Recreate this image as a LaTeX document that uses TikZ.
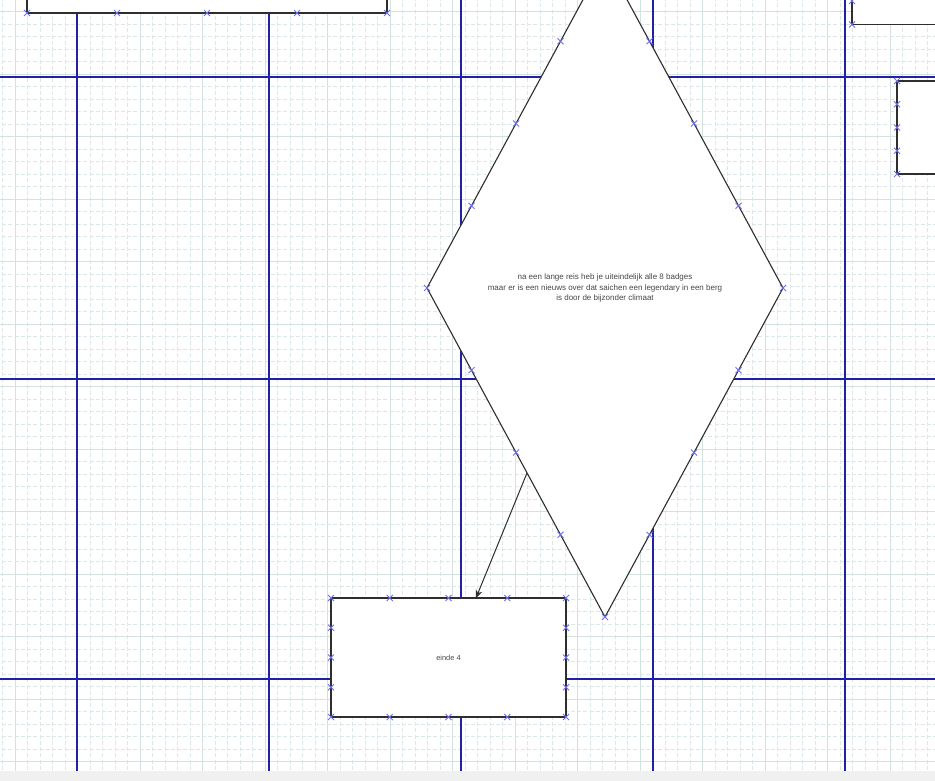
\documentclass[tikz,border=0pt]{standalone}
\usepackage{fontspec}
\setmainfont{Liberation Sans}
\usetikzlibrary{shapes.geometric,arrows.meta,calc}
\definecolor{gmin}{HTML}{DCE7E7}
\definecolor{gmaj}{HTML}{D3E1E1}
\definecolor{pg}{HTML}{2020A8}
\definecolor{mkc}{HTML}{6E6EF0}
\definecolor{edgec}{HTML}{2E2E2E}
\definecolor{txt}{HTML}{474747}
\definecolor{strip}{HTML}{F0F0F0}
\begin{document}
\begin{tikzpicture}[x=1pt,y=-1pt,
  minorline/.style={gmin,line width=0.9pt},
  majorline/.style={gmaj,line width=1pt},
  shapebox/.style={draw=edgec,fill=white,line width=1.2pt,rectangle,inner sep=0pt,outer sep=0pt},
  shapedia/.style={draw=edgec,fill=white,line width=1.1pt,diamond,inner sep=0pt,outer sep=0pt,
    text=txt,align=center,font=\fontsize{8}{10.4}\selectfont},
  arr/.style={draw=edgec,line width=1pt,-{Stealth[length=8pt,width=7pt]}},
  mk/.pic={\draw[mkc,line width=0.85pt] (-3,-3)--(3,3) (-3,3)--(3,-3);}
]
\useasboundingbox (0,0) rectangle (935,781);
\clip (0,0) rectangle (935,781);
\fill[white] (0,0) rectangle (935,771);
\fill[strip] (0,771) rectangle (935,781);

% grid
\begin{scope}
\clip (0,0) rectangle (935,771);
\foreach \i in {0,...,74}
  \draw[minorline,dash pattern=on 4pt off 2.25pt,dash phase=2.8pt] ({2.5+12.5*\i},0) -- ({2.5+12.5*\i},771);
\foreach \i in {0,...,62}
  \draw[minorline,dash pattern=on 4pt off 2.25pt,dash phase=4.25pt] (0,{-0.8+12.5*\i}) -- (935,{-0.8+12.5*\i});
\foreach \i in {0,...,14}
  \draw[majorline] ({15+62.5*\i},0) -- ({15+62.5*\i},771);
\foreach \i in {0,...,12}
  \draw[majorline] (0,{11.7+62.5*\i}) -- (935,{11.7+62.5*\i});
\foreach \px in {76,268,460,652,844}
  \fill[pg] (\px,0) rectangle ({\px+2},771);
\foreach \py in {76,378,678}
  \fill[pg] (0,\py) rectangle (935,{\py+2});
\end{scope}

% shapes
\node[shapebox,minimum width=360pt,minimum height=120pt,anchor=south west] (r1) at (27,13) {};
\node[shapebox,minimum width=400pt,minimum height=94pt,anchor=south west] (r2) at (852,24.5) {};
\node[shapebox,minimum width=200pt,minimum height=93pt,anchor=north west] (r3) at (897,81) {};
\node[shapedia,minimum width=356pt,minimum height=658pt] (d) at (605,288)
  {na een lange reis heb je uiteindelijk alle 8 badges\\
   maar er is een nieuws over dat saichen een legendary in een berg\\
   is door de bijzonder climaat};
\node[shapebox,minimum width=235pt,minimum height=119pt,text=txt,font=\fontsize{7.4}{9}\selectfont] (e) at (448.5,657.5) {einde 4};

% connector
\coordinate (a0) at ($(d.west)!0.562!(d.south)$);
\coordinate (a1) at ($(e.north west)!0.617!(e.north east)$);
\draw[arr] (a0) -- (a1);

% connection markers
\foreach \n in {r1,r2,r3,e}
  \foreach \a/\b in {north west/north east,north east/south east,south east/south west,south west/north west}
    \foreach \t in {0,0.25,0.5,0.75}
      \pic at ($(\n.\a)!\t!(\n.\b)$) {mk};
\foreach \a/\b in {west/north,north/east,east/south,south/west}
  \foreach \t in {0,0.25,0.5,0.75}
    \pic at ($(d.\a)!\t!(d.\b)$) {mk};
\end{tikzpicture}
\end{document}
